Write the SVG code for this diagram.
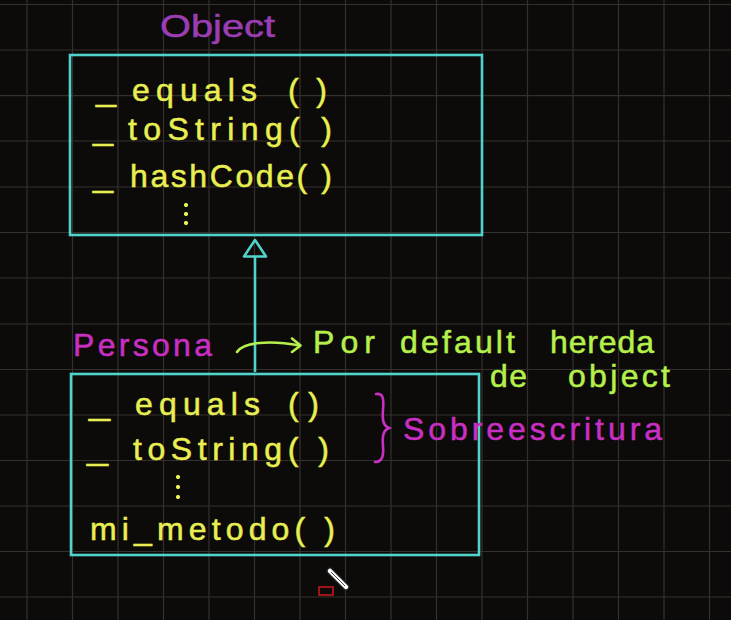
<svg xmlns="http://www.w3.org/2000/svg" width="731" height="620" viewBox="0 0 731 620">
<style>
.grid{stroke:#34312d;stroke-width:1.2;fill:none}
.box{fill:none;stroke:#4fd3cb;stroke-width:2.6}
.t{font-family:"Liberation Sans","DejaVu Sans",sans-serif;font-size:32px;stroke-width:0.5}
.y{fill:#e9ef52;stroke:#e9ef52}
.g{fill:#b6f04c;stroke:#b6f04c}
.m{fill:#c92fc2;stroke:#c92fc2}
.p{fill:#9b3db3;stroke:#9b3db3}
</style>
<rect width="731" height="620" fill="#0d0b09"/>
<g id="grid">
<path class="grid" d="M27 0V620M72.5 0V620M118 0V620M163.5 0V620M209 0V620M254.5 0V620M300 0V620M345.5 0V620M391 0V620M436.5 0V620M482 0V620M527.5 0V620M573 0V620M618.5 0V620M664 0V620M709.5 0V620M0 4.5H731M0 50H731M0 95.6H731M0 141H731M0 187H731M0 232.5H731M0 278H731M0 324H731M0 369.5H731M0 415H731M0 460.5H731M0 506H731M0 551.5H731M0 597H731"/>
</g>
<g id="connectors">
<path d="M255 372V257" stroke="#4fd3cb" stroke-width="2.6" fill="none"/>
<path d="M255 240L244 256.5H266Z" stroke="#4fd3cb" stroke-width="2.6" fill="none" stroke-linejoin="round"/>
<path d="M237 352C243 342 270 340 300 345.5" stroke="#b6f04c" stroke-width="2.6" fill="none" stroke-linecap="round"/>
<path d="M292 338.5L300.5 345.5L292 352" stroke="#b6f04c" stroke-width="2.6" fill="none" stroke-linecap="round" stroke-linejoin="round"/>
</g>
<g id="object">
<text class="t p" x="160" y="37" textLength="115" lengthAdjust="spacingAndGlyphs">Object</text>
<rect class="box" x="70" y="55" width="412" height="180"/>
<text class="t y" x="96" y="101" textLength="20" lengthAdjust="spacingAndGlyphs">_</text>
<text class="t y" x="132" y="101" textLength="125" lengthAdjust="spacing">equals</text>
<text class="t y" x="288" y="101" textLength="39" lengthAdjust="spacing">( )</text>
<text class="t y" x="93" y="140" textLength="20" lengthAdjust="spacingAndGlyphs">_</text>
<text class="t y" x="128" y="140" textLength="204" lengthAdjust="spacing">toString( )</text>
<text class="t y" x="93" y="187" textLength="20" lengthAdjust="spacingAndGlyphs">_</text>
<text class="t y" x="130" y="187" textLength="202" lengthAdjust="spacing">hashCode( )</text>
<g class="y"><circle cx="186" cy="205" r="1.7"/><circle cx="186" cy="214" r="1.7"/><circle cx="186" cy="223" r="1.7"/></g>
</g>
<g id="persona">
<text class="t m" x="73" y="356" textLength="139" lengthAdjust="spacing">Persona</text>
<rect class="box" x="71" y="374" width="408" height="181"/>
<text class="t y" x="89" y="415" textLength="21" lengthAdjust="spacingAndGlyphs">_</text>
<text class="t y" x="135" y="415" textLength="125" lengthAdjust="spacing">equals</text>
<text class="t y" x="288" y="415" textLength="31" lengthAdjust="spacing">( )</text>
<text class="t y" x="87" y="460" textLength="21" lengthAdjust="spacingAndGlyphs">_</text>
<text class="t y" x="133" y="460" textLength="196" lengthAdjust="spacing">toString( )</text>
<g class="y"><circle cx="178" cy="477" r="1.7"/><circle cx="178" cy="487" r="1.7"/><circle cx="178" cy="497" r="1.7"/></g>
<text class="t y" x="90" y="540" textLength="245" lengthAdjust="spacing">mi_metodo( )</text>
</g>
<g id="note">
<text class="t g" x="313" y="353" textLength="62" lengthAdjust="spacing">Por</text>
<text class="t g" x="400" y="353" textLength="115" lengthAdjust="spacing">default</text>
<text class="t g" x="550" y="353" textLength="104" lengthAdjust="spacing">hereda</text>
<text class="t g" x="490" y="387" textLength="37" lengthAdjust="spacing">de</text>
<text class="t g" x="568" y="387" textLength="102" lengthAdjust="spacing">object</text>
</g>
<g id="sobreescritura">
<path d="M376 394C383 393 384 398 383 410C382 422 384 426 389 428C384 430 382 434 383 446C384 458 381 462 375 462" stroke="#c92fc2" stroke-width="2.6" fill="none" stroke-linecap="round"/>
<text class="t m" x="403" y="440" textLength="259" lengthAdjust="spacing">Sobreescritura</text>
</g>
<g id="cursor">
<path d="M330 571L346 587" stroke="#222" stroke-width="7" stroke-linecap="round"/>
<path d="M330 571L346 587" stroke="#ffffff" stroke-width="4.5" stroke-linecap="round"/>
<path d="M331 572L345 586" stroke="#444" stroke-width="1"/>
<rect x="319" y="587" width="14" height="8" fill="none" stroke="#d01818" stroke-width="1.5"/>
</g>
</svg>
